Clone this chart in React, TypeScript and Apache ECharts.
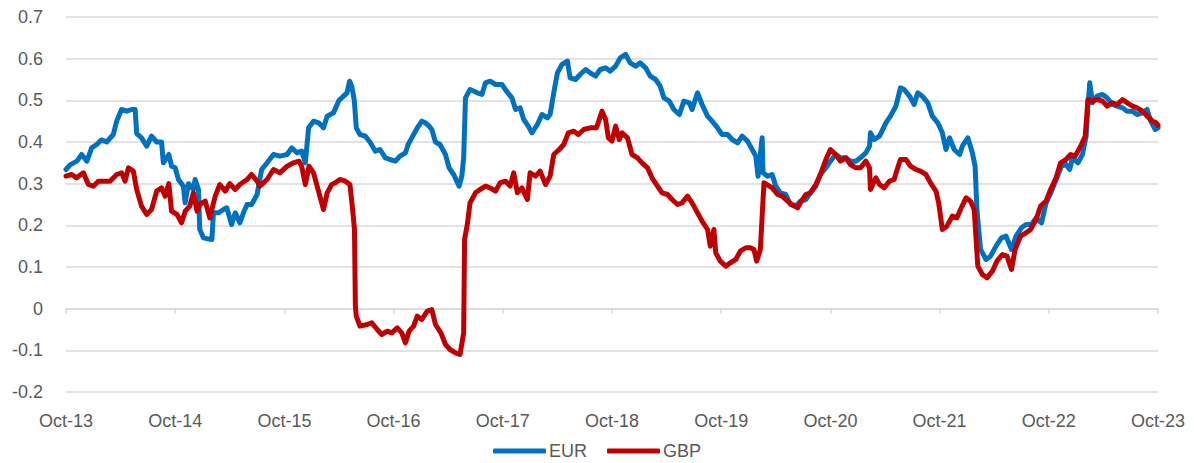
import React, { useEffect, useRef } from "react";
import * as echarts from "echarts";

// x = months since Oct-2013, y = value
const tickLabels = ["Oct-13", "Oct-14", "Oct-15", "Oct-16", "Oct-17", "Oct-18", "Oct-19", "Oct-20", "Oct-21", "Oct-22", "Oct-23"];

const eurData: [number, number][] = [
  [0, 0.334], [0.44, 0.345], [1.2, 0.354], [1.72, 0.37], [2.3, 0.354], [2.82, 0.386], [3.37, 0.394], [3.9, 0.405],
  [4.47, 0.4], [5.2, 0.418], [5.57, 0.45], [6.1, 0.478], [6.67, 0.474], [7.22, 0.478], [7.6, 0.478], [7.77, 0.42],
  [8.3, 0.41], [8.87, 0.39], [9.4, 0.414], [9.97, 0.4], [10.5, 0.4], [10.7, 0.35], [11.3, 0.37], [11.6, 0.342],
  [12.0, 0.338], [12.36, 0.31], [12.9, 0.294], [13.09, 0.254], [13.46, 0.3], [14.0, 0.286], [14.19, 0.31], [14.56, 0.286],
  [14.7, 0.19], [15.1, 0.17], [15.7, 0.167], [16.03, 0.166], [16.2, 0.23], [16.76, 0.23], [17.3, 0.238], [17.67, 0.242],
  [18.2, 0.202], [18.6, 0.23], [19.1, 0.206], [19.5, 0.23], [19.9, 0.25], [20.4, 0.25], [21.0, 0.274], [21.5, 0.334],
  [22.1, 0.35], [22.8, 0.37], [23.5, 0.366], [24.3, 0.37], [24.8, 0.386], [25.4, 0.374], [25.9, 0.378], [26.3, 0.35],
  [26.66, 0.434], [27.2, 0.45], [27.76, 0.446], [28.3, 0.434], [28.7, 0.462], [29.4, 0.47], [30.0, 0.5], [30.5, 0.51],
  [30.88, 0.518], [31.17, 0.546], [31.4, 0.534], [31.68, 0.5], [31.9, 0.434], [32.3, 0.418], [32.9, 0.414], [33.4, 0.4],
  [34.0, 0.378], [34.5, 0.382], [35.1, 0.362], [35.6, 0.358], [36.2, 0.354], [36.7, 0.366], [37.3, 0.374], [37.6, 0.394],
  [38.0, 0.41], [38.6, 0.434], [39.1, 0.45], [39.5, 0.446], [39.9, 0.438], [40.2, 0.43], [40.6, 0.4], [41.1, 0.394],
  [41.7, 0.37], [42.1, 0.338], [42.6, 0.322], [43.2, 0.294], [43.5, 0.318], [43.7, 0.362], [43.9, 0.506], [44.4, 0.526],
  [45.2, 0.518], [45.7, 0.514], [46.1, 0.542], [46.6, 0.546], [47.2, 0.538], [47.9, 0.538], [48.4, 0.522], [49.0, 0.506],
  [49.4, 0.478], [49.9, 0.482], [50.3, 0.454], [50.8, 0.438], [51.2, 0.422], [51.8, 0.442], [52.3, 0.466], [52.9, 0.458],
  [53.2, 0.466], [53.6, 0.518], [54.0, 0.566], [54.5, 0.586], [55.1, 0.594], [55.4, 0.554], [56.0, 0.55], [56.5, 0.562],
  [57.1, 0.574], [57.6, 0.566], [58.2, 0.558], [58.7, 0.574], [59.3, 0.578], [59.8, 0.57], [60.4, 0.582], [60.9, 0.602],
  [61.5, 0.61], [62.0, 0.59], [62.6, 0.582], [63.1, 0.59], [63.7, 0.578], [64.2, 0.558], [64.8, 0.55], [65.3, 0.534],
  [65.7, 0.506], [66.3, 0.498], [66.8, 0.478], [67.4, 0.466], [67.9, 0.498], [68.5, 0.494], [68.8, 0.478], [69.4, 0.518],
  [69.9, 0.49], [70.5, 0.462], [71.0, 0.45], [71.6, 0.434], [72.1, 0.418], [72.7, 0.418], [73.2, 0.406], [73.8, 0.398],
  [74.3, 0.414], [74.9, 0.402], [75.4, 0.382], [75.8, 0.366], [76.05, 0.318], [76.5, 0.41], [76.6, 0.326], [77.1, 0.318],
  [77.6, 0.322], [78.0, 0.294], [78.5, 0.278], [79.1, 0.274], [79.6, 0.25], [80.2, 0.246], [80.7, 0.258], [81.3, 0.262],
  [81.8, 0.278], [82.4, 0.294], [82.9, 0.322], [83.5, 0.338], [84.0, 0.354], [84.6, 0.37], [85.1, 0.362], [85.7, 0.362],
  [86.2, 0.354], [86.8, 0.354], [87.3, 0.362], [87.9, 0.374], [88.3, 0.39], [88.4, 0.422], [88.8, 0.406], [89.4, 0.414],
  [90.1, 0.446], [90.6, 0.462], [91.2, 0.486], [91.7, 0.53], [92.1, 0.526], [92.7, 0.51], [93.2, 0.49], [93.6, 0.518],
  [94.1, 0.51], [94.7, 0.494], [95.2, 0.462], [95.8, 0.446], [96.3, 0.422], [96.7, 0.382], [97.1, 0.41], [97.6, 0.382],
  [98.2, 0.37], [98.5, 0.39], [99.1, 0.41], [99.6, 0.374], [99.9, 0.342], [100.1, 0.238], [100.5, 0.142], [101.1, 0.118],
  [101.6, 0.126], [102.2, 0.15], [102.8, 0.17], [103.3, 0.174], [103.9, 0.142], [104.4, 0.174], [105.0, 0.194], [105.5, 0.202],
  [106.1, 0.202], [106.6, 0.218], [107.2, 0.206], [107.7, 0.254], [108.3, 0.282], [108.8, 0.31], [109.4, 0.342], [109.9, 0.346],
  [110.3, 0.334], [110.6, 0.362], [111.2, 0.35], [111.7, 0.37], [112.1, 0.414], [112.3, 0.486], [112.5, 0.542], [112.8, 0.494],
  [113.3, 0.51], [113.9, 0.514], [114.4, 0.506], [115.0, 0.49], [115.5, 0.486], [116.1, 0.482], [116.6, 0.474], [117.2, 0.474],
  [117.7, 0.466], [118.3, 0.47], [118.8, 0.478], [119.2, 0.45], [119.7, 0.43], [120, 0.434],
];

const gbpData: [number, number][] = [
  [0, 0.318], [0.62, 0.322], [1.17, 0.314], [1.91, 0.326], [2.46, 0.298], [3.0, 0.294], [3.56, 0.306], [4.1, 0.306],
  [4.84, 0.306], [5.57, 0.322], [6.12, 0.326], [6.49, 0.306], [6.86, 0.338], [7.4, 0.33], [7.77, 0.286], [8.3, 0.246],
  [8.87, 0.226], [9.4, 0.238], [9.97, 0.282], [10.5, 0.29], [10.9, 0.27], [11.3, 0.3], [11.6, 0.234], [12.2, 0.226],
  [12.7, 0.206], [13.1, 0.234], [13.6, 0.246], [14.0, 0.278], [14.4, 0.234], [14.7, 0.25], [15.3, 0.258], [15.8, 0.218],
  [16.4, 0.27], [16.9, 0.298], [17.5, 0.282], [18.0, 0.3], [18.6, 0.286], [19.1, 0.298], [19.9, 0.31], [20.4, 0.322],
  [21.0, 0.306], [21.3, 0.294], [22.1, 0.31], [22.8, 0.334], [23.5, 0.326], [24.3, 0.342], [25.0, 0.35], [25.6, 0.354],
  [25.9, 0.342], [26.3, 0.298], [26.7, 0.342], [27.2, 0.326], [27.8, 0.278], [28.3, 0.238], [28.7, 0.278], [29.2, 0.298],
  [29.6, 0.302], [30.1, 0.31], [30.7, 0.306], [31.2, 0.298], [31.5, 0.238], [31.7, 0.19], [31.8, 0.006], [31.9, -0.018],
  [32.3, -0.042], [33.1, -0.038], [33.6, -0.034], [34.2, -0.05], [34.7, -0.062], [35.3, -0.054], [35.8, -0.058], [36.4, -0.046],
  [36.9, -0.058], [37.3, -0.082], [37.7, -0.054], [38.2, -0.042], [38.6, -0.018], [39.1, -0.026], [39.7, -0.006], [40.2, -0.002],
  [40.6, -0.038], [41.2, -0.058], [41.7, -0.086], [42.2, -0.098], [42.8, -0.106], [43.3, -0.11], [43.7, -0.058], [43.8, 0.166],
  [44.1, 0.202], [44.4, 0.254], [45.0, 0.278], [45.5, 0.286], [46.1, 0.294], [46.6, 0.29], [47.2, 0.282], [47.7, 0.302],
  [48.3, 0.306], [48.8, 0.294], [49.2, 0.326], [49.6, 0.278], [50.1, 0.29], [50.7, 0.262], [51.0, 0.326], [51.6, 0.318],
  [52.1, 0.33], [52.7, 0.298], [53.2, 0.318], [53.6, 0.37], [54.2, 0.382], [54.7, 0.394], [55.2, 0.422], [55.8, 0.426],
  [56.3, 0.418], [56.9, 0.43], [57.6, 0.434], [58.3, 0.434], [58.9, 0.474], [59.3, 0.454], [59.6, 0.41], [60.0, 0.402],
  [60.4, 0.438], [60.8, 0.406], [61.1, 0.422], [61.7, 0.41], [62.2, 0.37], [62.8, 0.362], [63.3, 0.35], [63.9, 0.338],
  [64.4, 0.314], [65.0, 0.294], [65.5, 0.278], [66.1, 0.274], [66.6, 0.262], [67.2, 0.25], [67.7, 0.254], [68.3, 0.27],
  [68.8, 0.254], [69.4, 0.23], [69.9, 0.21], [70.5, 0.19], [70.8, 0.15], [71.2, 0.19], [71.4, 0.134], [71.9, 0.114],
  [72.5, 0.102], [73.0, 0.11], [73.6, 0.118], [74.1, 0.138], [74.7, 0.146], [75.2, 0.146], [75.6, 0.142], [75.9, 0.114],
  [76.3, 0.142], [76.5, 0.222], [76.7, 0.302], [77.3, 0.294], [77.6, 0.29], [78.2, 0.274], [78.7, 0.27], [79.3, 0.258],
  [79.8, 0.25], [80.4, 0.242], [80.7, 0.254], [81.3, 0.274], [81.8, 0.278], [82.4, 0.298], [82.9, 0.322], [83.5, 0.358],
  [84.0, 0.382], [84.6, 0.37], [85.1, 0.354], [85.7, 0.362], [86.2, 0.346], [86.8, 0.338], [87.3, 0.338], [87.9, 0.354],
  [88.3, 0.338], [88.4, 0.286], [89.0, 0.314], [89.4, 0.298], [89.9, 0.29], [90.5, 0.306], [91.0, 0.31], [91.4, 0.338],
  [91.7, 0.358], [92.3, 0.358], [92.8, 0.342], [93.4, 0.334], [93.9, 0.33], [94.5, 0.322], [95.0, 0.302], [95.6, 0.282],
  [95.9, 0.254], [96.3, 0.19], [96.8, 0.198], [97.4, 0.222], [97.9, 0.218], [98.3, 0.238], [98.9, 0.266], [99.4, 0.258],
  [99.8, 0.238], [100.2, 0.102], [100.7, 0.082], [101.2, 0.074], [101.8, 0.09], [102.3, 0.114], [102.9, 0.13], [103.4, 0.126],
  [103.9, 0.094], [104.3, 0.142], [104.9, 0.174], [105.5, 0.182], [106.0, 0.19], [106.6, 0.214], [107.1, 0.246], [107.7, 0.258],
  [108.2, 0.286], [108.8, 0.314], [109.3, 0.35], [109.9, 0.358], [110.4, 0.37], [110.9, 0.366], [111.5, 0.39], [112.0, 0.414],
  [112.3, 0.502], [112.8, 0.498], [113.3, 0.502], [113.9, 0.498], [114.4, 0.486], [115.0, 0.494], [115.5, 0.49], [116.1, 0.502],
  [116.6, 0.494], [117.2, 0.486], [117.7, 0.482], [118.3, 0.474], [118.8, 0.462], [119.4, 0.45], [119.8, 0.446], [120, 0.44],
];

const FONT = "'Liberation Sans', Arial, sans-serif";
const TEXT = "#595959";
const GRID = "#d9d9d9";

export default function App() {
  const ref = useRef<HTMLDivElement>(null);

  useEffect(() => {
    if (!ref.current) return;
    const chart = echarts.init(ref.current, null, { renderer: "svg" });
    chart.setOption({
      animation: false,
      backgroundColor: "#ffffff",
      textStyle: { fontFamily: FONT },
      grid: { left: 66, right: 36, top: 17, bottom: 71, containLabel: false },
      legend: {
        top: 442,
        left: "center",
        icon: "roundRect",
        itemWidth: 53,
        itemHeight: 5,
        itemGap: 20,
        padding: 0,
        textStyle: { color: TEXT, fontSize: 18, lineHeight: 18, fontFamily: FONT, padding: [0, 0, 0, -2] },
        data: ["EUR", "GBP"],
      },
      xAxis: [
        {
          type: "value",
          min: 0,
          max: 120,
          interval: 12,
          position: "bottom",
          axisLine: { show: false, onZero: false },
          axisTick: { show: false },
          splitLine: { show: false },
          axisLabel: {
            margin: 20,
            color: TEXT,
            fontSize: 18,
            fontFamily: FONT,
            formatter: (v: number) => tickLabels[Math.round(v / 12)] ?? "",
          },
        },
        {
          type: "value",
          min: 0,
          max: 120,
          interval: 12,
          position: "bottom",
          axisLine: { show: true, onZero: true, lineStyle: { color: GRID, width: 1.5 } },
          axisTick: { show: true, length: 5, lineStyle: { color: GRID, width: 1.5 } },
          splitLine: { show: false },
          axisLabel: { show: false },
        },
      ],
      yAxis: {
        type: "value",
        min: -0.2,
        max: 0.7,
        interval: 0.1,
        axisLine: { show: false },
        axisTick: { show: false },
        splitLine: { show: true, lineStyle: { color: GRID, width: 1.5 } },
        axisLabel: {
          margin: 23,
          color: TEXT,
          fontSize: 18,
          fontFamily: FONT,
          formatter: (v: number) => String(Math.round(v * 10) / 10),
        },
      },
      series: [
        {
          name: "EUR",
          type: "line",
          data: eurData,
          showSymbol: false,
          symbol: "none",
          color: "#0070C0",
          lineStyle: { color: "#0070C0", width: 5, cap: "round", join: "round" },
        },
        {
          name: "GBP",
          type: "line",
          data: gbpData,
          showSymbol: false,
          symbol: "none",
          color: "#C00000",
          lineStyle: { color: "#C00000", width: 5, cap: "round", join: "round" },
        },
      ],
    });
    return () => chart.dispose();
  }, []);

  return (
    <div style={{ position: "fixed", left: 0, top: 0, width: 1194, height: 463, background: "#fff" }}>
      <div ref={ref} style={{ width: 1194, height: 463 }} />
    </div>
  );
}
